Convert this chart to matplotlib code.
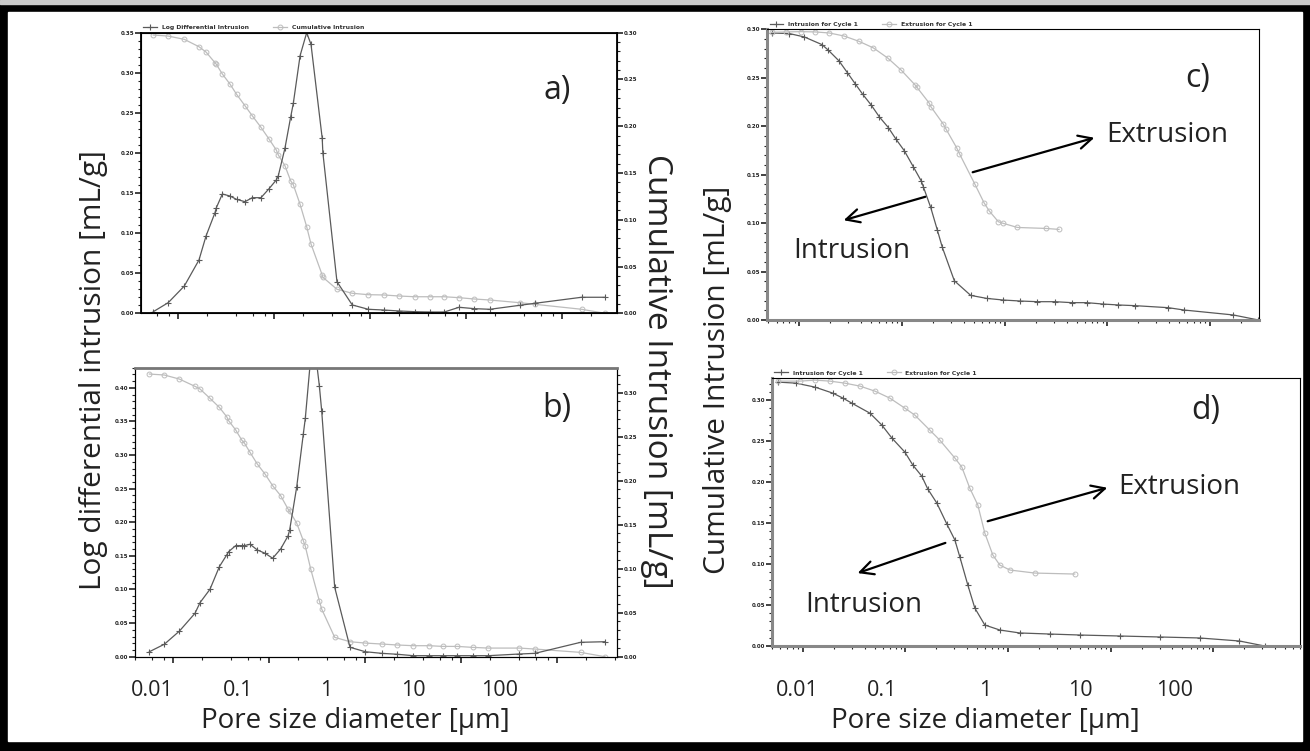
import matplotlib.pyplot as plt
from matplotlib.patches import Rectangle
from matplotlib.ticker import LogLocator, MultipleLocator, NullFormatter, FormatStrFormatter

W, H = 1310, 751
DARK = '#5a5a5a'
LIGHT = '#bdbdbd'
BIG = 'Open Sans'

# a) log differential + cumulative intrusion
a_diam = [0.00553, 0.00792, 0.01164, 0.01655, 0.0196, 0.0243, 0.0251, 0.0290, 0.0348, 0.0408,
          0.0499, 0.0594, 0.0732, 0.0888, 0.1057, 0.111, 0.130, 0.149, 0.159, 0.187,
          0.219, 0.243, 0.318, 0.323, 0.453, 0.654, 0.960, 1.39, 2.00, 2.94,
          4.25, 5.94, 8.46, 12.2, 17.7, 36.5, 52.4, 160, 281]
a_logdiff = [0.002, 0.0133, 0.034, 0.0665, 0.0964, 0.1255, 0.1317, 0.1488, 0.1463, 0.1421,
             0.1392, 0.1442, 0.1442, 0.1554, 0.1663, 0.1717, 0.2058, 0.2444, 0.2619, 0.3213,
             0.350, 0.3355, 0.2182, 0.2003, 0.0394, 0.0104, 0.005, 0.0041, 0.0029, 0.002,
             0.0016, 0.0016, 0.0075, 0.0058, 0.005, 0.010, 0.0125, 0.020, 0.020]
a_cum = [0.2975, 0.2964, 0.2929, 0.2850, 0.2793, 0.2679, 0.2662, 0.2558, 0.2451, 0.2341,
         0.2219, 0.2112, 0.1988, 0.1863, 0.1746, 0.1692, 0.1578, 0.1418, 0.1375, 0.1165,
         0.0926, 0.0741, 0.0409, 0.0385, 0.0257, 0.0214, 0.0199, 0.0196, 0.0185, 0.0177,
         0.0177, 0.0177, 0.0167, 0.0153, 0.0142, 0.0113, 0.0096, 0.0043, 0.0]

# b) log differential + cumulative intrusion
b_diam = [0.00563, 0.00806, 0.01156, 0.01683, 0.01897, 0.0241, 0.0302, 0.0360, 0.0377, 0.0447,
          0.0516, 0.0550, 0.0630, 0.0750, 0.0902, 0.1084, 0.1313, 0.1567, 0.1630, 0.1928,
          0.2262, 0.2373, 0.270, 0.3065, 0.3320, 0.3512, 0.480, 0.693, 1.00, 1.48,
          2.16, 3.16, 4.64, 6.40, 9.10, 13.1, 19.1, 40.2, 58.6, 175, 314]
b_logdiff = [0.0074, 0.0185, 0.038, 0.0646, 0.0804, 0.1003, 0.134, 0.1514, 0.1563, 0.1653,
             0.1653, 0.1653, 0.1673, 0.1588, 0.1539, 0.1465, 0.1603, 0.1797, 0.1886, 0.2522,
             0.3315, 0.3549, 0.445, 0.445, 0.4035, 0.3662, 0.1033, 0.0140, 0.0074, 0.0050,
             0.0036, 0.0015, 0.0015, 0.0015, 0.0015, 0.0015, 0.0015, 0.004, 0.005, 0.0214, 0.0223]
b_cum_diam = [0.00563, 0.00806, 0.01156, 0.01683, 0.01897, 0.0241, 0.0302, 0.0360, 0.0377, 0.0447,
              0.0516, 0.0550, 0.0630, 0.0750, 0.0902, 0.1084, 0.1313, 0.1567, 0.1630, 0.1928,
              0.2262, 0.2373, 0.270, 0.3320, 0.3512, 0.480, 0.693, 1.00, 1.48,
              2.16, 3.16, 4.64, 6.40, 9.10, 13.1, 19.1, 40.2, 58.6, 175, 314]
b_cum = [0.3212, 0.3201, 0.3155, 0.3072, 0.3042, 0.2936, 0.2833, 0.2727, 0.2682, 0.2576,
         0.2462, 0.2428, 0.2322, 0.2189, 0.2076, 0.1943, 0.1830, 0.1678, 0.1652, 0.1519,
         0.1318, 0.1254, 0.0996, 0.0636, 0.0542, 0.0220, 0.0170, 0.0155, 0.0144,
         0.0133, 0.0125, 0.0125, 0.0117, 0.0117, 0.0106, 0.0098, 0.0098, 0.0087, 0.0049, 0.0]

# c) intrusion / extrusion, cycle 1
c_int_diam = [0.00538, 0.00800, 0.01119, 0.01663, 0.01918, 0.02435, 0.02936, 0.0349, 0.0414, 0.0503,
              0.0602, 0.0736, 0.0874, 0.1054, 0.1289, 0.1542, 0.1613, 0.1902, 0.2208, 0.2470,
              0.3232, 0.4664, 0.6675, 0.970, 1.41, 2.08, 3.09, 4.49, 6.28, 8.99,
              12.8, 18.6, 39.2, 55.7, 168, 295]
c_int = [0.2962, 0.2956, 0.2921, 0.2842, 0.2784, 0.2674, 0.2553, 0.2440, 0.2330, 0.2216,
         0.2096, 0.1986, 0.1866, 0.1746, 0.1581, 0.1433, 0.1375, 0.1162, 0.0928, 0.0749,
         0.0405, 0.0254, 0.0223, 0.0206, 0.0196, 0.0189, 0.0189, 0.0179, 0.0179, 0.0165,
         0.0155, 0.0148, 0.0127, 0.0103, 0.0052, 0.0]
c_ext_diam = [0.00538, 0.00742, 0.0103, 0.01422, 0.0196, 0.0272, 0.0381, 0.0526, 0.0725, 0.0985,
              0.1348, 0.1389, 0.1832, 0.1916, 0.2526, 0.2662, 0.3405, 0.3616, 0.5137, 0.6287,
              0.7085, 0.8670, 0.970, 1.33, 2.51, 3.38]
c_ext = [0.2969, 0.2973, 0.2976, 0.2973, 0.2962, 0.2931, 0.2876, 0.2808, 0.2704, 0.2577,
         0.2423, 0.2405, 0.2241, 0.2199, 0.2021, 0.1976, 0.1777, 0.1718, 0.1399, 0.1210,
         0.1124, 0.1014, 0.0997, 0.0955, 0.0945, 0.0935]

# d) intrusion / extrusion, cycle 1
d_int_diam = [0.00572, 0.00856, 0.0131, 0.0196, 0.0246, 0.0300, 0.045, 0.0589, 0.0737, 0.0986,
              0.118, 0.144, 0.165, 0.202, 0.253, 0.303, 0.339, 0.405, 0.474, 0.593,
              0.83, 1.30, 2.55, 4.99, 12.2, 30, 73.5, 180, 316]
d_int = [0.322, 0.3207, 0.3159, 0.3085, 0.3024, 0.2963, 0.2841, 0.2695, 0.2537, 0.2366,
         0.2207, 0.2073, 0.1915, 0.1744, 0.1488, 0.1293, 0.1085, 0.0744, 0.0463, 0.0256,
         0.0195, 0.0159, 0.0146, 0.0134, 0.0122, 0.011, 0.0098, 0.0061, 0.0]
d_ext_diam = [0.00572, 0.00937, 0.0131, 0.01835, 0.0257, 0.036, 0.0503, 0.0705, 0.0986, 0.1234,
              0.1727, 0.216, 0.303, 0.354, 0.423, 0.507, 0.593, 0.71, 0.83, 1.04,
              1.82, 4.46]
d_ext = [0.3232, 0.3232, 0.3244, 0.3232, 0.3207, 0.3171, 0.311, 0.3024, 0.2902, 0.2817,
         0.2634, 0.2512, 0.2293, 0.2183, 0.1927, 0.172, 0.1378, 0.111, 0.0988, 0.0927,
         0.089, 0.0878]

x_ticklabels = ['0.01', '0.1', '1', '10', '100']


def box(l, t, r, b):
    # pixel box -> figure fraction rect
    return [l / W, 1 - b / H, (r - l) / W, (b - t) / H]


def fx(x):
    return x / W


def fy(y):
    return 1 - y / H


def y_ticks(ax, step, ymax):
    ax.set_ylim(0, ymax)
    ax.yaxis.set_major_locator(MultipleLocator(step))
    ax.yaxis.set_minor_locator(MultipleLocator(step / 5))
    ax.yaxis.set_major_formatter(FormatStrFormatter('%.2f'))
    ax.tick_params(axis='y', which='major', direction='out', length=4, width=1.2,
                   labelsize=4, pad=1, colors='#222222')
    ax.tick_params(axis='y', which='minor', direction='out', length=2, width=0.8, colors='#222222')
    for lab in ax.get_yticklabels():
        lab.set_fontweight('bold')


def small_axis(ax, step, subs, ymax):
    ax.set_xscale('log')
    ax.xaxis.set_major_locator(LogLocator(base=10))
    ax.xaxis.set_minor_locator(LogLocator(base=10, subs=subs))
    ax.xaxis.set_minor_formatter(NullFormatter())
    ax.xaxis.set_major_formatter(NullFormatter())
    ax.tick_params(axis='x', which='major', direction='out', length=4, width=1.2, colors='#222222')
    ax.tick_params(axis='x', which='minor', direction='out', length=2, width=0.8, colors='#222222')
    y_ticks(ax, step, ymax)


def legend(ax):
    leg = ax.legend(loc='lower left', bbox_to_anchor=(0.0, 1.0), ncol=2, frameon=False,
                    handlelength=2.2, columnspacing=4, borderpad=0.2, borderaxespad=0.2,
                    prop={'weight': 'bold', 'size': 4.4})
    for t in leg.get_texts():
        t.set_color('#333333')


fig = plt.figure(figsize=(W / 100, H / 100), dpi=100)
fig.patch.set_facecolor('black')
fig.patches.append(Rectangle((0, fy(4)), 1, 4 / H, transform=fig.transFigure, color='#c9c9c9', zorder=-10))
fig.patches.append(Rectangle((fx(8), fy(741)), (1302 - 8) / W, (741 - 12) / H,
                             transform=fig.transFigure, color='white', zorder=-10))

int_kw = dict(color=DARK, lw=0.9, marker='+', ms=5, mew=0.8)
cum_kw = dict(color=LIGHT, lw=0.9, marker='o', ms=3.5, mfc='none', mew=0.7)

# ---- panel a
ax_a = fig.add_axes(box(141, 32.7, 617, 313.3))
ax_a2 = ax_a.twinx()
ax_a.plot(a_diam, a_logdiff, label='Log Differential Intrusion', **int_kw)
ax_a.plot([], [], label='Cumulative Intrusion', **cum_kw)
ax_a2.plot(a_diam, a_cum, **cum_kw)
small_axis(ax_a, 0.05, [2, 4, 6, 8], 0.35)
y_ticks(ax_a2, 0.05, 0.30)
ax_a.set_xlim(0.00412, 374)
ax_a.set_zorder(2)
ax_a2.set_zorder(1)
ax_a.patch.set_visible(False)
legend(ax_a)
for s in ax_a.spines.values():
    s.set_linewidth(1.3)

# ---- panel b
ax_b = fig.add_axes(box(135, 367.7, 617.3, 656.7))
ax_b2 = ax_b.twinx()
ax_b.plot(b_diam, b_logdiff, **int_kw)
ax_b2.plot(b_cum_diam, b_cum, **cum_kw)
small_axis(ax_b, 0.05, [2, 4, 6, 8], 0.43)
y_ticks(ax_b2, 0.05, 0.3284)
ax_b.set_xlim(0.00399, 422)
ax_b.set_zorder(2)
ax_b2.set_zorder(1)
ax_b.patch.set_visible(False)
ax_b.spines['top'].set_color('#777777')
ax_b.spines['top'].set_linewidth(2)

# ---- panel c
ax_c = fig.add_axes(box(767.3, 29.3, 1259, 320))
ax_c.plot(c_int_diam, c_int, label='Intrusion for Cycle 1', **int_kw)
ax_c.plot(c_ext_diam, c_ext, label='Extrusion for Cycle 1', **cum_kw)
small_axis(ax_c, 0.05, [2, 3, 4, 5, 6, 7, 8, 9], 0.30)
ax_c.set_xlim(0.00488, 299)
legend(ax_c)

# ---- panel d
ax_d = fig.add_axes(box(772, 378, 1300, 646))
ax_d.plot(d_int_diam, d_int, label='Intrusion for Cycle 1', **int_kw)
ax_d.plot(d_ext_diam, d_ext, label='Extrusion for Cycle 1', **cum_kw)
small_axis(ax_d, 0.05, [2, 3, 4, 5, 6, 7, 8, 9], 0.327)
ax_d.set_xlim(0.005, 700)
legend(ax_d)

for ax in (ax_c, ax_d):
    for side in ('left', 'bottom'):
        ax.spines[side].set_color('#888888')
        ax.spines[side].set_linewidth(2.2)

# composite labels
big = dict(family=BIG, color='#222222')
for x, lab in zip([152, 238, 326, 413, 500], x_ticklabels):
    fig.text(fx(x), fy(690), lab, ha='center', va='center', fontsize=15.5, **big)
for x, lab in zip([797, 882, 985, 1080, 1175], x_ticklabels):
    fig.text(fx(x), fy(690), lab, ha='center', va='center', fontsize=15.5, **big)
fig.text(fx(355), fy(721), 'Pore size diameter [µm]', ha='center', va='center', fontsize=20, **big)
fig.text(fx(985), fy(721), 'Pore size diameter [µm]', ha='center', va='center', fontsize=20, **big)
fig.text(fx(94), fy(370), 'Log differential intrusion [mL/g]', rotation=90, ha='center', va='center',
         fontsize=21.5, **big)
fig.text(fx(657), fy(371), 'Cumulative Intrusion [mL/g]', rotation=270, ha='center', va='center',
         fontsize=24, **big)
fig.text(fx(717), fy(380), 'Cumulative Intrusion [mL/g]', rotation=90, ha='center', va='center',
         fontsize=21.5, **big)

for x, y, s in [(557, 90, 'a)'), (557, 409, 'b)'), (1198, 78, 'c)'), (1206, 410, 'd)')]:
    fig.text(fx(x), fy(y), s, ha='center', va='center', fontsize=23, **big)

arrow = dict(arrowstyle='->', color='black', lw=1.6, mutation_scale=24)
# c)
fig.text(fx(1106), fy(142), 'Extrusion', ha='left', va='baseline', fontsize=20, **big)
fig.text(fx(793), fy(258), 'Intrusion', ha='left', va='baseline', fontsize=20, **big)
ax_c.annotate('', xy=(fx(1097), fy(137)), xytext=(fx(970), fy(173)), xycoords='figure fraction',
              textcoords='figure fraction', arrowprops=arrow)
ax_c.annotate('', xy=(fx(841), fy(221)), xytext=(fx(928), fy(196)), xycoords='figure fraction',
              textcoords='figure fraction', arrowprops=arrow)
# d)
fig.text(fx(1118), fy(494), 'Extrusion', ha='left', va='baseline', fontsize=20, **big)
fig.text(fx(805), fy(612), 'Intrusion', ha='left', va='baseline', fontsize=20, **big)
ax_d.annotate('', xy=(fx(1110), fy(487)), xytext=(fx(985), fy(522)), xycoords='figure fraction',
              textcoords='figure fraction', arrowprops=arrow)
ax_d.annotate('', xy=(fx(855), fy(574)), xytext=(fx(948), fy(542)), xycoords='figure fraction',
              textcoords='figure fraction', arrowprops=arrow)

fig.savefig('out.png', dpi=100, facecolor=fig.get_facecolor())
